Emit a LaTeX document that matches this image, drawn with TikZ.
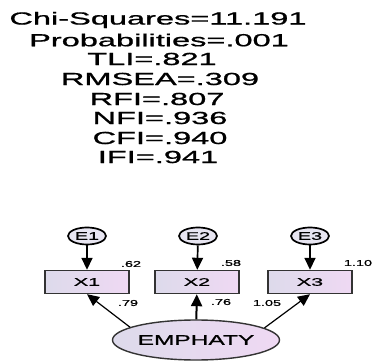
\documentclass[tikz,border=0pt]{standalone}
\usepackage{fontspec}
\setmainfont{Liberation Sans}
\newfontfamily\heavy{Liberation Sans}[FakeBold=0.8]
\usepackage{graphicx}
\usepackage{tikz}
\usetikzlibrary{shapes.geometric,arrows.meta}
\usepackage{xcolor}
\definecolor{lavgray}{HTML}{DDDAEB}
\definecolor{lavpink}{HTML}{EFD9F3}
\newcommand{\wide}[2]{\scalebox{#1}[1]{#2}}
\newcommand{\fitline}[4] {
    \node[inner sep=0pt,font=\heavy\fontsize{17.5}{18}\selectfont] (#1) at (#2, #3) {\wide{1.86}{#4}};
}
\tikzset{
    errvar/.style={draw,ellipse,line width=1.7pt,fill=lavgray!70,minimum width=38pt,minimum height=17pt,inner sep=0pt,font=\heavy\fontsize{11}{12}\selectfont},
    obsbox/.style={draw=black!80,line width=1.4pt,rectangle,left color=lavgray,right color=lavpink,minimum width=84pt,minimum height=23pt,inner sep=0pt,font=\heavy\fontsize{11}{12}\selectfont},
    latent/.style={draw=black!80,line width=1.4pt,ellipse,left color=lavgray,right color=lavpink,minimum width=167pt,minimum height=40pt,inner sep=0pt,font=\heavy\fontsize{14}{15}\selectfont},
    est/.style={inner sep=0pt,font=\heavy\fontsize{8.5}{9}\selectfont}
}

\begin{document}
\begin{tikzpicture}[x=1pt,y=-1pt]
        \useasboundingbox (0,0) rectangle (372,363);
        % fit indices
        \fitline{chisq}{158}{20}{Chi-Squares=11.191}
        \fitline{prob}{159}{40}{Probabilities=.001}
        \fitline{tli}{152}{59}{TLI=.821}
        \fitline{rmsea}{160}{79}{RMSEA=.309}
        \fitline{rfi}{157}{99}{RFI=.807}
        \fitline{nfi}{160}{118}{NFI=.936}
        \fitline{cfi}{160}{138}{CFI=.940}
        \fitline{ifi}{158}{157}{IFI=.941}
        % measurement model
        \node[errvar] (e1) at (87, 236) {\wide{1.8}{E1}};
        \node[errvar] (e2) at (198, 236) {\wide{1.8}{E2}};
        \node[errvar] (e3) at (310, 236) {\wide{1.8}{E3}};
        \node[obsbox] (x1) at (87, 282) {\wide{1.95}{X1}};
        \node[obsbox] (x2) at (197, 282) {\wide{1.95}{X2}};
        \node[obsbox] (x3) at (310, 282) {\wide{1.95}{X3}};
        \node[latent] (emp) at (196, 340) {\wide{1.75}{EMPHATY}};
        \node[est] (v1) at (131, 264) {\wide{1.7}{.62}};
        \node[est] (v2) at (231, 263) {\wide{1.7}{.58}};
        \node[est] (v3) at (358, 263) {\wide{1.7}{1.10}};
        \node[est] (l1) at (128, 303) {\wide{1.7}{.79}};
        \node[est] (l2) at (221, 302) {\wide{1.7}{.76}};
        \node[est] (l3) at (267, 303) {\wide{1.7}{1.05}};
        \begin{scope}[every path/.style={
                -{Triangle[length=12pt,width=11pt]}
            }]
            \draw[line width=1.7pt] (e1) -- (x1);
            \draw[line width=1.7pt] (e2) -- (x2);
            \draw[line width=1.7pt] (e3) -- (x3);
            \draw[line width=2pt] (emp) -- (x2);
            \draw[line width=1.2pt] (emp.169) -- (x1.south);
            \draw[line width=1.2pt] (emp.10) -- (x3.south);
        \end{scope}
    \end{tikzpicture}
\end{document}
